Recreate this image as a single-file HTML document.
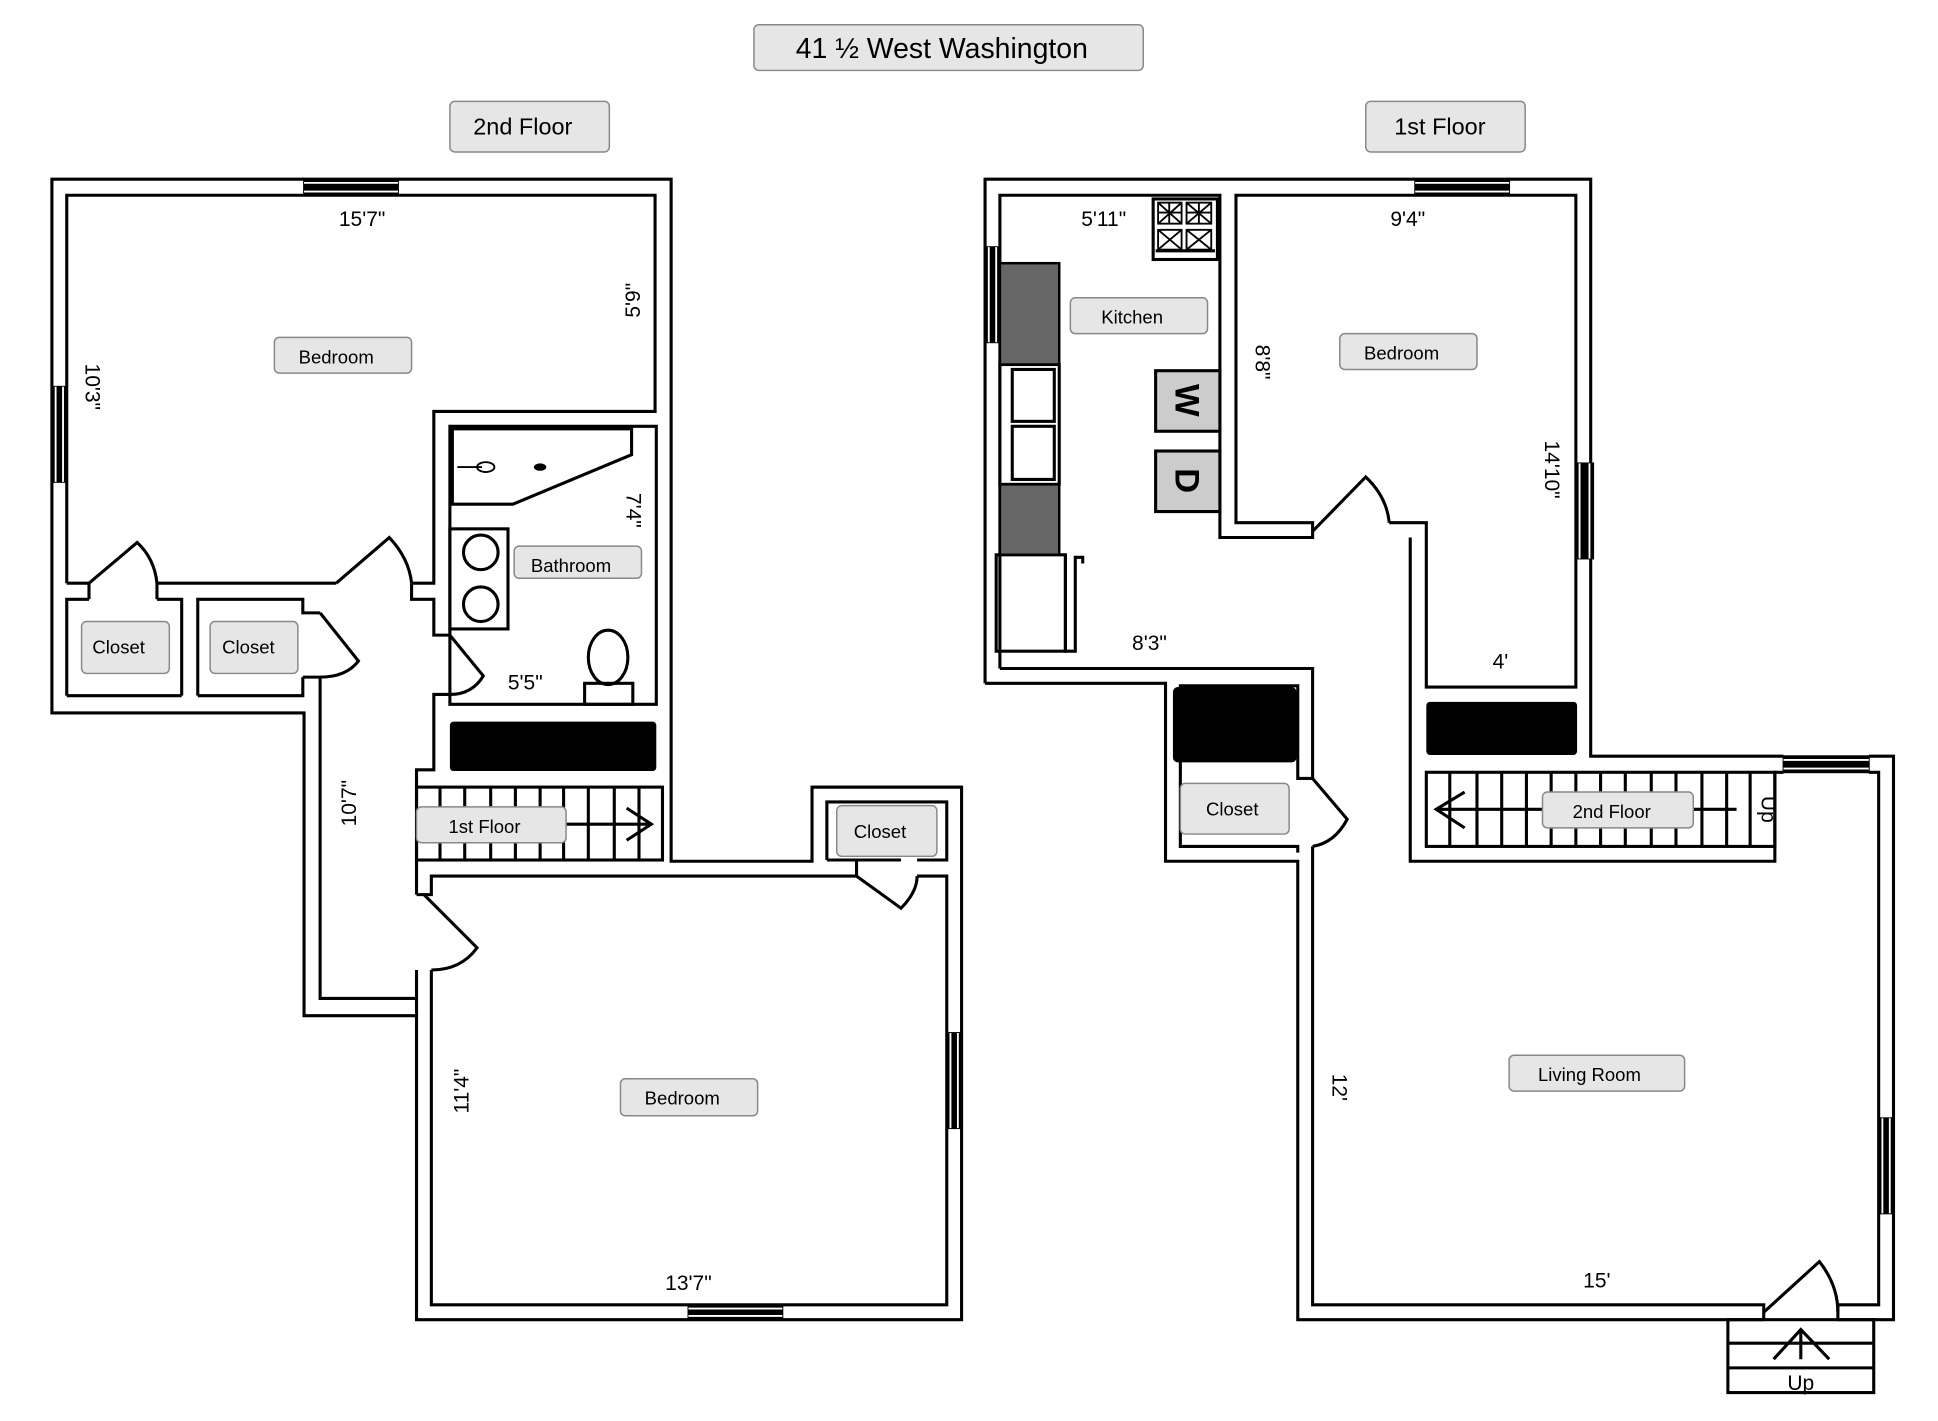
<!DOCTYPE html>
<html><head><meta charset="utf-8"><style>html,body{margin:0;padding:0;background:#fff}svg{display:block}</style></head><body>
<svg width="1938" height="1421" viewBox="0 0 1568 1150" preserveAspectRatio="none" xmlns="http://www.w3.org/2000/svg" font-family="Liberation Sans, sans-serif">
<g fill="none" stroke="#000" stroke-width="2.5">
<path d="M42,145 H543 V697 H657 V637 H778 V1068 H337 V822 H246 V577 H42 Z"/>
<path d="M54,472 V158 H530 V333 H351 V472 H333"/>
<path d="M54,472 H72 V485 M127,485 V472 H272"/>
<path d="M54,563 V485 H72 M127,485 H147 V563"/>
<path d="M54,563 H147"/>
<path d="M160,563 V485 H245 V496 H259 M245,548 V563 H160"/>
<path d="M245,548 H259 V808 H337"/>
<path d="M333,472 V485 H351 V514 H364 M364,562 H351 V623 H337 V697"/>
<path d="M337,724 V696 M337,785 V822 M349,785 V1056 H766 V709 H742 M693,709 H349 V724 H337"/>
<path d="M657,637 H778 M669,696 V649 H766 V696 H742 M729,696 H669"/>
<path d="M693,696 V709"/>
<path d="M364,345 H531 V570 H364 Z"/>
<path d="M366,347 H511 V368 L415,408 H366 Z"/>
<rect x="364" y="428" width="47" height="81"/>
<circle cx="389" cy="447" r="14"/><circle cx="389" cy="489" r="14"/>
<ellipse cx="492" cy="532" rx="16" ry="22"/>
<rect x="473" y="553" width="39" height="17"/>
<path d="M72,472 L111,439 Q125,452 127,472"/>
<path d="M259,496 L290,535 Q280,548 259,548"/>
<path d="M272,472 L315,435 Q331,452 333,472"/>
<path d="M364,514 L391,547 Q382,562 364,562"/>
<path d="M343,724 L386,767 Q373,785 349,785"/>
<path d="M693,709 L729,735 Q742,722 742,709"/>
<rect x="337" y="637" width="199" height="59"/>
<path d="M356,637 V696 M376,637 V696 M397,637 V696 M417,637 V696 M437,637 V696 M456,637 V696 M476,637 V696 M497,637 V696 M517,637 V696"/>
<path d="M458,667 H527 M507,654 L527,667 L507,680"/>
<path d="M797,553 V145 H1287 V612 H1443 M1512,612 H1532 V1068 H1487 M1427,1068 H1050 V697 H943 V553 H797"/>
<path d="M809,541 V158 H987 V435 H1062 V423 H1000 V158 H1275 V556 H1154 V423 H1124"/>
<path d="M809,541 H1062 V630 H1050 V555 H955 V685 H1050 V690"/>
<path d="M1062,685 V1056 H1427 V1068 M1487,1068 V1056 H1520 V625 H1512"/>
<path d="M1141,435 V697 H1436 V625 H1443"/>
<path d="M1062,630 L1090,663 Q1080,682 1062,685"/>
<path d="M1062,430 L1105,386 Q1122,402 1124,423"/>
<path d="M1427,1062 L1472,1021 Q1487,1040 1487,1062"/>
<rect x="1154" y="625" width="282" height="60"/>
<path d="M1173,625 V685 M1195,625 V685 M1215,625 V685 M1235,625 V685 M1255,625 V685 M1275,625 V685 M1295,625 V685 M1315,625 V685 M1336,625 V685 M1356,625 V685 M1377,625 V685 M1397,625 V685 M1416,625 V685"/>
<path d="M1162,655 H1405 M1185,641 L1162,655 L1185,670"/>
<rect x="1398" y="1068" width="118" height="59"/>
<path d="M1398,1087 H1516 M1398,1107 H1516 M1457,1076 V1100 M1435,1100 L1457,1076 L1480,1100"/>
<rect x="809" y="295" width="48" height="97" fill="#fff"/>
<rect x="819" y="299" width="34" height="42"/><rect x="819" y="345" width="34" height="43"/>
<rect x="806" y="449" width="56" height="78"/>
<path d="M862,449 V527 H870 V451 H876 V456"/>
<rect x="933" y="161" width="52" height="49"/>
<path d="M935,203 H983"/>
</g>
<g stroke="#000" stroke-width="1.5" fill="none">
<rect x="937" y="164" width="19" height="17"/><rect x="960" y="164" width="20" height="17"/>
<rect x="937" y="186" width="19" height="16"/><rect x="960" y="186" width="20" height="16"/>
<path d="M937,164 L956,181 M956,164 L937,181 M960,164 L980,181 M980,164 L960,181 M937,186 L956,202 M956,186 L937,202 M960,186 L980,202 M980,186 L960,202 M946,164 V181 M937,172 H956 M970,164 V181 M960,172 H980"/>
</g>
<rect x="809" y="213" width="48" height="82" fill="#666" stroke="#000" stroke-width="2"/>
<rect x="809" y="392" width="48" height="57" fill="#666" stroke="#000" stroke-width="2"/>
<rect x="935" y="300" width="52" height="49" fill="#ccc" stroke="#000" stroke-width="2.5"/>
<rect x="935" y="365" width="52" height="49" fill="#ccc" stroke="#000" stroke-width="2.5"/>
<rect x="364" y="584" width="167" height="40" rx="3" fill="#000"/>
<rect x="949" y="556" width="100" height="61" rx="4" fill="#000"/>
<rect x="1154" y="568" width="122" height="43" rx="3" fill="#000"/>
<g fill="#000" stroke="#000" stroke-width="1.5">
<rect x="246" y="145" width="76" height="13"/><rect x="42" y="313" width="12" height="77"/>
<rect x="766" y="836" width="12" height="77"/><rect x="557" y="1056" width="76" height="12"/>
<rect x="1145" y="145" width="76" height="13"/><rect x="797" y="200" width="12" height="77"/>
<rect x="1275" y="375" width="14" height="77"/><rect x="1443" y="612" width="69" height="13"/>
<rect x="1520" y="905" width="12" height="77"/>
</g>
<g stroke="#fff" stroke-width="1.5">
<path d="M246,148 H322 M246,155 H322 M1145,148 H1221 M1145,155 H1221 M1443,615 H1512 M1443,622 H1512 M557,1059 H633 M557,1065 H633"/>
<path d="M45,313 V390 M51,313 V390 M769,836 V913 M775,836 V913 M800,200 V277 M806,200 V277 M1278,375 V452 M1286,375 V452 M1523,905 V982 M1529,905 V982"/>
</g>
<g fill="#e6e6e6" stroke="#888" stroke-width="1.2">
<rect x="610" y="20" width="315" height="37" rx="4"/>
<rect x="364" y="82" width="129" height="41" rx="4"/>
<rect x="1105" y="82" width="129" height="41" rx="4"/>
<rect x="222" y="273" width="111" height="29" rx="4"/>
<rect x="416" y="442" width="103" height="26" rx="4"/>
<rect x="66" y="503" width="71" height="42" rx="4"/>
<rect x="170" y="503" width="71" height="42" rx="4"/>
<rect x="337" y="653" width="121" height="29" rx="4"/>
<rect x="677" y="652" width="81" height="41" rx="4"/>
<rect x="502" y="873" width="111" height="30" rx="4"/>
<rect x="866" y="241" width="111" height="29" rx="4"/>
<rect x="1084" y="270" width="111" height="29" rx="4"/>
<rect x="955" y="634" width="88" height="41" rx="4"/>
<rect x="1248" y="641" width="122" height="29" rx="4"/>
<rect x="1221" y="854" width="142" height="29" rx="4"/>
</g>
<g fill="#000" text-anchor="middle">
<text x="762" y="47" font-size="23">41 ½ West Washington</text>
<text x="423" y="109" font-size="19">2nd Floor</text>
<text x="1165" y="109" font-size="19">1st Floor</text>
<g font-size="15">
<text x="272" y="294">Bedroom</text>
<text x="462" y="463">Bathroom</text>
<text x="96" y="529">Closet</text>
<text x="201" y="529">Closet</text>
<text x="392" y="674">1st Floor</text>
<text x="712" y="678">Closet</text>
<text x="552" y="894">Bedroom</text>
<text x="916" y="262">Kitchen</text>
<text x="1134" y="291">Bedroom</text>
<text x="997" y="660">Closet</text>
<text x="1304" y="662">2nd Floor</text>
<text x="1286" y="875">Living Room</text>
</g>
<g font-size="17">
<text x="293" y="183">15'7"</text>
<text x="425" y="558">5'5"</text>
<text x="557" y="1044">13'7"</text>
<text x="893" y="183">5'11"</text>
<text x="1139" y="183">9'4"</text>
<text x="930" y="526">8'3"</text>
<text x="1214" y="541">4'</text>
<text x="1292" y="1042">15'</text>
<text x="1457" y="1125">Up</text>
<text transform="translate(518,243) rotate(-90)">5'9"</text>
<text transform="translate(69,313) rotate(90)">10'3"</text>
<text transform="translate(507,413) rotate(90)">7'4"</text>
<text transform="translate(288,650) rotate(-90)">10'7"</text>
<text transform="translate(379,883) rotate(-90)">11'4"</text>
<text transform="translate(1016,293) rotate(90)">8'8"</text>
<text transform="translate(1250,380) rotate(90)">14'10"</text>
<text transform="translate(1078,880) rotate(90)">12'</text>
<text transform="translate(1425,655) rotate(90)">Up</text>
</g>
<text transform="translate(951,324) rotate(90)" font-size="28" font-weight="bold">W</text>
<text transform="translate(951,389) rotate(90)" font-size="28" font-weight="bold">D</text>
</g>
<ellipse cx="437" cy="378" rx="5" ry="3" fill="#000"/>
<path d="M370,378 H390" stroke="#000" stroke-width="1.5"/>
<ellipse cx="393" cy="378" rx="7" ry="4" fill="none" stroke="#000" stroke-width="1.5"/>
</svg>
</body></html>
